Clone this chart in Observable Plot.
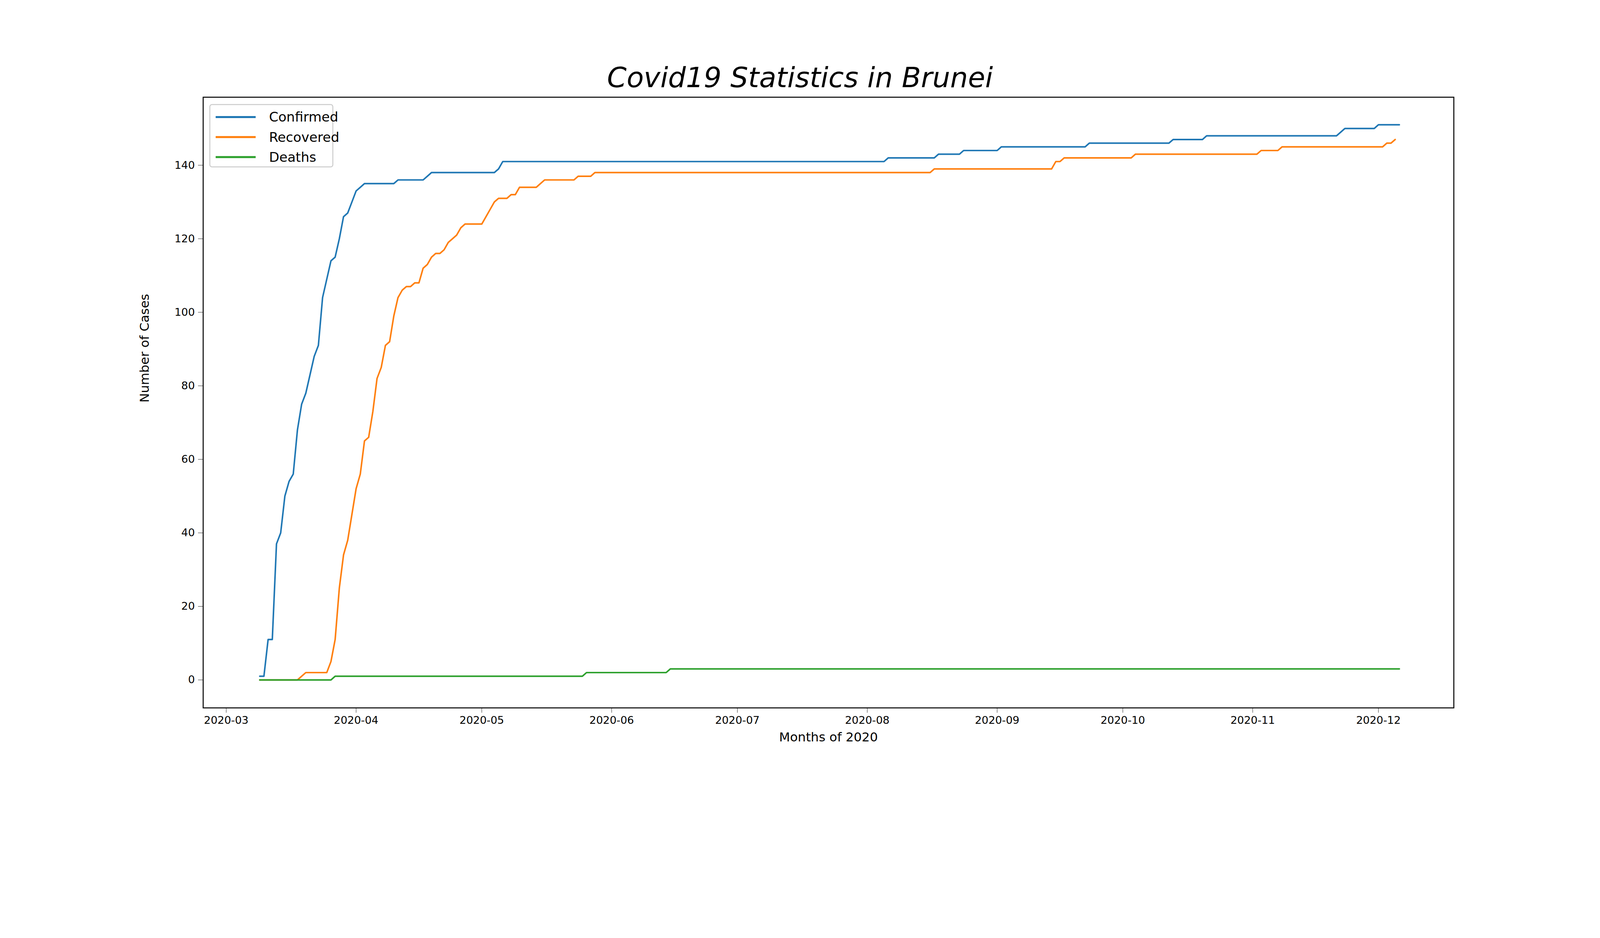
<!DOCTYPE html>
<html>
<head>
<meta charset="utf-8">
<script src="https://cdn.jsdelivr.net/npm/d3@7"></script>
<script src="https://cdn.jsdelivr.net/npm/@observablehq/plot@0.6"></script>
<style>
  html, body { margin: 0; padding: 0; background: #fff; overflow: hidden; font-family: "DejaVu Sans", sans-serif; }
  #wrap { position: relative; width: 4800px; height: 2400px; transform-origin: 0 0; }
  #title { height: 280px; position: relative; font-style: italic; font-size: 84px; line-height: 84px; }
  #title span { position: absolute; left: 0; right: 0; top: 190px; text-align: center; }
  #chart svg { display: block; max-width: none; }
  #legend { position: absolute; left: 628px; top: 312px; width: 372px; height: 190px; border: 3px solid #ccc; border-radius: 8px; background: #fff; font-size: 40px; box-sizing: border-box; padding-top: 6px; }
  .item { display: flex; justify-content: flex-start; align-items: center; height: 60px; text-align: left; }
  .sw { flex: none; width: 120px; height: 6px; margin: 0 40px 0 16px; }
</style>
</head>
<body>
<div id="wrap">
  <div id="title"><span>Covid19 Statistics in Brunei</span></div>
  <div id="chart"></div>
  <div id="legend"></div>
</div>
<script>
const seriesNames = ["Confirmed", "Recovered", "Deaths"];
const seriesColors = ["#1f77b4", "#ff7f0e", "#2ca02c"];

const confirmed = [
  ["2020-03-09", 1], ["2020-03-10", 1], ["2020-03-11", 11], ["2020-03-12", 11], ["2020-03-13", 37],
  ["2020-03-14", 40], ["2020-03-15", 50], ["2020-03-16", 54], ["2020-03-17", 56], ["2020-03-18", 68],
  ["2020-03-19", 75], ["2020-03-20", 78], ["2020-03-21", 83], ["2020-03-22", 88], ["2020-03-23", 91],
  ["2020-03-24", 104], ["2020-03-25", 109], ["2020-03-26", 114], ["2020-03-27", 115], ["2020-03-28", 120],
  ["2020-03-29", 126], ["2020-03-30", 127], ["2020-03-31", 130], ["2020-04-01", 133], ["2020-04-02", 134],
  ["2020-04-03", 135], ["2020-04-10", 135], ["2020-04-11", 136], ["2020-04-17", 136], ["2020-04-18", 137],
  ["2020-04-19", 138], ["2020-05-04", 138], ["2020-05-05", 139], ["2020-05-06", 141], ["2020-08-05", 141],
  ["2020-08-06", 142], ["2020-08-17", 142], ["2020-08-18", 143], ["2020-08-23", 143], ["2020-08-24", 144],
  ["2020-09-01", 144], ["2020-09-02", 145], ["2020-09-22", 145], ["2020-09-23", 146], ["2020-10-12", 146],
  ["2020-10-13", 147], ["2020-10-20", 147], ["2020-10-21", 148], ["2020-11-21", 148], ["2020-11-23", 150],
  ["2020-11-30", 150], ["2020-12-01", 151], ["2020-12-06", 151]
];
const recovered = [
  ["2020-03-09", 0], ["2020-03-18", 0], ["2020-03-20", 2], ["2020-03-25", 2], ["2020-03-26", 5],
  ["2020-03-27", 11], ["2020-03-28", 25], ["2020-03-29", 34], ["2020-03-30", 38], ["2020-03-31", 45],
  ["2020-04-01", 52], ["2020-04-02", 56], ["2020-04-03", 65], ["2020-04-04", 66], ["2020-04-05", 73],
  ["2020-04-06", 82], ["2020-04-07", 85], ["2020-04-08", 91], ["2020-04-09", 92], ["2020-04-10", 99],
  ["2020-04-11", 104], ["2020-04-12", 106], ["2020-04-13", 107], ["2020-04-14", 107], ["2020-04-15", 108],
  ["2020-04-16", 108], ["2020-04-17", 112], ["2020-04-18", 113], ["2020-04-19", 115], ["2020-04-20", 116],
  ["2020-04-21", 116], ["2020-04-22", 117], ["2020-04-23", 119], ["2020-04-24", 120], ["2020-04-25", 121],
  ["2020-04-26", 123], ["2020-04-27", 124], ["2020-05-01", 124], ["2020-05-02", 126], ["2020-05-03", 128],
  ["2020-05-04", 130], ["2020-05-05", 131], ["2020-05-07", 131], ["2020-05-08", 132], ["2020-05-09", 132],
  ["2020-05-10", 134], ["2020-05-14", 134], ["2020-05-15", 135], ["2020-05-16", 136], ["2020-05-23", 136],
  ["2020-05-24", 137], ["2020-05-27", 137], ["2020-05-28", 138], ["2020-08-16", 138], ["2020-08-17", 139],
  ["2020-09-14", 139], ["2020-09-15", 141], ["2020-09-16", 141], ["2020-09-17", 142], ["2020-10-03", 142],
  ["2020-10-04", 143], ["2020-11-02", 143], ["2020-11-03", 144], ["2020-11-07", 144], ["2020-11-08", 145],
  ["2020-12-02", 145], ["2020-12-03", 146], ["2020-12-04", 146], ["2020-12-05", 147]
];
const deaths = [
  ["2020-03-09", 0], ["2020-03-26", 0], ["2020-03-27", 1], ["2020-05-25", 1], ["2020-05-26", 2],
  ["2020-06-14", 2], ["2020-06-15", 3], ["2020-12-06", 3]
];
const yTicks = [0, 20, 40, 60, 80, 100, 120, 140];

const rows = [confirmed, recovered, deaths].flatMap((s, i) =>
  s.map(([d, v]) => ({date: new Date(d + "T00:00:00Z"), value: v, series: seriesNames[i]})));

const chart = Plot.plot({
  width: 4800,
  height: 2120,
  marginTop: 11,
  marginBottom: 278,
  marginLeft: 609,
  marginRight: 439,
  style: {fontFamily: "DejaVu Sans, sans-serif", fontSize: "32px", color: "#000", background: "#fff"},
  x: {
    type: "utc",
    domain: [new Date("2020-02-24T12:00:00Z"), new Date("2020-12-19T00:00:00Z")],
    ticks: d3.utcMonth.every(1),
    tickFormat: d3.utcFormat("%Y-%m"),
    tickSize: 15,
    tickPadding: 10,
    label: null
  },
  y: {domain: [-7.6, 158.5], ticks: yTicks, tickSize: 15, tickPadding: 10, label: null},
  color: {domain: seriesNames, range: seriesColors},
  marks: [
    Plot.frame({stroke: "#000", strokeWidth: 3}),
    Plot.line(rows, {x: "date", y: "value", z: "series", stroke: "series", strokeWidth: 4.6}),
    Plot.text(["Months of 2020"], {frameAnchor: "bottom", dy: 100, fontSize: 38, text: d => d}),
    Plot.text(["Number of Cases"], {frameAnchor: "left", dx: -175, rotate: -90, fontSize: 38, text: d => d})
  ]
});
document.getElementById("chart").appendChild(chart);

const legend = document.getElementById("legend");
seriesNames.forEach((n, i) => {
  const it = document.createElement("div");
  it.className = "item";
  it.innerHTML = `<div class="sw" style="background:${seriesColors[i]}"></div><span>${n}</span>`;
  legend.appendChild(it);
});

// fit the 4800x2400 layout to whatever viewport we get
const s = Math.min(window.innerWidth / 4800, window.innerHeight / 2400);
if (s && Math.abs(s - 1) > 0.001) document.getElementById("wrap").style.transform = `scale(${s})`;
</script>
</body>
</html>
